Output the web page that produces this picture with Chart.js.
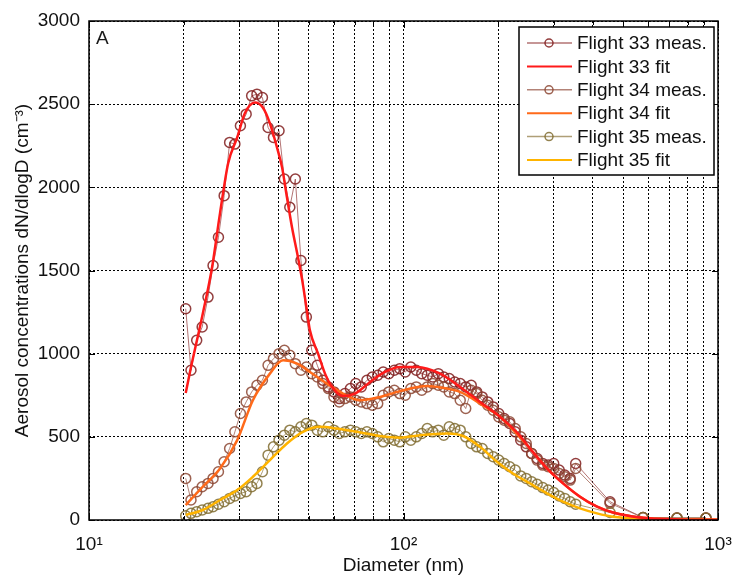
<!DOCTYPE html>
<html><head><meta charset="utf-8">
<script src="https://cdn.jsdelivr.net/npm/chart.js@4/dist/chart.umd.min.js"></script>
<style>html,body{margin:0;padding:0;background:#fff;}#wrap{width:734px;height:575px;position:relative;}</style>
</head><body><div id="wrap"><canvas id="c" width="734" height="575"></canvas></div>
<script>
// ---------- DATA ----------
const seriesLabels = ["Flight 33 meas.", "Flight 33 fit", "Flight 34 meas.", "Flight 34 fit", "Flight 35 meas.", "Flight 35 fit"];

// measured diameters (nm)
const measDiameter = [20.3, 21.1, 22.0, 22.9, 23.9, 24.8, 25.8, 26.9, 28.0, 29.1, 30.3, 31.6, 32.9, 34.2, 35.6, 37.1, 38.6, 40.2, 41.8, 43.5,
  45.3, 47.2, 49.1, 51.1, 53.2, 55.4, 57.7, 60.1, 62.5, 65.1, 67.8, 70.5, 73.4, 76.5, 79.6, 82.8, 86.2, 89.8, 93.5, 97.3,
  101.3, 105.5, 109.8, 114.3, 119.0, 123.9, 129.0, 134.3, 139.8, 145.5, 151.5, 157.7, 164.2, 170.9, 177.9, 185.3, 192.9, 200.8, 209.0, 217.6,
  226.6, 235.9, 245.6, 255.6, 266.1, 277.1, 288.5, 300.3, 312.6, 325.5, 338.8, 352.8, 453.6, 577.5, 740.6, 915.6];

const flight33Meas = [1270, 900, 1080, 1160, 1340, 1530, 1700, 1950, 2270, 2260, 2370, 2440, 2550, 2560, 2540, 2360, 2300, 2340, 2050, 1880,
  2050, 1560, 1220, 1020, 930, 840, 800, 770, 730, 760, 790, 820, 800, 840, 860, 870, 890, 880, 900, 910,
  890, 920, 900, 880, 870, 860, 880, 860, 850, 830, 820, 800, 810, 770, 740, 710, 680, 640, 610, 580,
  530, 480, 440, 400, 370, 340, 330, 340, 300, 270, 250, 340, 110, 15, 12, 12];

const flight34Meas = [250, 120, 170, 200, 220, 250, 290, 350, 430, 530, 640, 710, 770, 810, 840, 930, 970, 1000, 1020, 990,
  940, 900, 920, 880, 860, 820, 790, 740, 710, 730, 740, 720, 710, 700, 690, 700, 750, 770, 780, 760,
  750, 790, 800, 780, 800, 820, 810, 800, 770, 760, 720, 670, 780, 760, 720, 690, 660, 620, 600, 590,
  550, 500, 460, 400, 360, 330, 320, 310, 280, 260, 240, 310, 100, 15, 12, 12];

const flight35Meas = [25, 40, 50, 60, 70, 80, 95, 110, 130, 145, 160, 170, 200, 220, 290, 390, 440, 480, 510, 540,
  530, 560, 580, 570, 540, 530, 560, 540, 520, 530, 540, 530, 520, 530, 520, 500, 470, 490, 480, 470,
  500, 480, 500, 520, 550, 530, 540, 510, 560, 550, 540, 500, 460, 440, 430, 400, 380, 360, 340, 320,
  300, 265, 250, 230, 215, 195, 180, 165, 145, 130, 110, 95, 45, 15, 12, 12];

// fitted curves
const fit33Diameter = [20.3, 21.0, 23.0, 24.6, 26.1, 27.7, 29.6, 31.3, 33.7, 35.7, 37.6, 39.6, 41.1, 42.6, 44.2, 45.9, 47.6, 49.3, 50.4, 53.5,
  56.3, 59.3, 64.2, 70.1, 78.3, 87.3, 97.5, 110.4, 130.7, 151.3, 175.1, 202.7, 231.3, 252.5, 285.9, 321.6, 364.1, 412.4, 463.6, 565.0, 757.1, 1000];
const fit33Values = [763, 900, 1240, 1515, 1845, 2145, 2300, 2445, 2510, 2480, 2385, 2240, 2120, 1940, 1760, 1605, 1445, 1260, 1140, 1000,
  880, 800, 745, 760, 830, 890, 920, 920, 880, 800, 710, 620, 520, 430, 310, 220, 140, 80, 45, 15, 3, 1];

const fit34Diameter = [20.3, 23.0, 26.1, 29.6, 33.2, 37.6, 41.4, 45.9, 50.4, 57.1, 64.2, 72.7, 84.2, 97.5, 118.8, 137.5, 151.3, 175.1, 202.7, 231.3,
  252.5, 285.9, 321.6, 364.1, 412.4, 463.6, 565.0, 757.1, 1000];
const fit34Values = [90, 200, 310, 480, 720, 880, 960, 940, 890, 820, 760, 720, 740, 775, 805, 790, 770, 700, 620, 510,
  430, 310, 220, 140, 80, 45, 15, 3, 1];

const fit35Diameter = [20.3, 23.0, 26.1, 29.6, 33.2, 37.6, 42.6, 47.9, 54.3, 61.4, 71.1, 84.2, 97.5, 112.9, 137.5, 154.6, 175.1, 198.3, 222.9, 252.5,
  285.9, 321.6, 364.1, 412.4, 463.6, 594.6, 757.1, 1000];
const fit35Values = [30, 60, 120, 180, 260, 360, 460, 530, 560, 550, 530, 505, 495, 510, 520, 505, 440, 350, 280, 220,
  160, 110, 70, 40, 20, 6, 2, 1];

// axes
const xTickValues = [10, 20, 30, 40, 50, 60, 70, 80, 90, 100, 200, 300, 400, 500, 600, 700, 800, 900, 1000];
const xMajorLabels = {10: "10\u00B9", 100: "10\u00B2", 1000: "10\u00B3"};
const yTickValues = [0, 500, 1000, 1500, 2000, 2500, 3000];
const xTitle = "Diameter (nm)";
const yTitle = "Aerosol concentrations dN/dlogD (cm\u207B\u00B3)";
const panelLetter = "A";

// ---------- CHART ----------
const FONT = "'Liberation Sans', Arial, Helvetica, sans-serif";
const pts = (xs, ys) => xs.map((d, i) => ({x: d, y: ys[i]}));

function measSet(label, vals, pointColor, lineColor, order) {
  return {label, data: pts(measDiameter, vals), showLine: true, borderColor: lineColor, borderWidth: 1,
    pointRadius: 5, pointBorderWidth: 1.5, pointBorderColor: pointColor, pointBackgroundColor: 'rgba(0,0,0,0)',
    pointStyle: 'circle', tension: 0, order, _kind: 'meas'};
}
function fitSet(label, xs, ys, color, order) {
  return {label, data: pts(xs, ys), showLine: true, borderColor: color, borderWidth: 2.5,
    pointRadius: 0, cubicInterpolationMode: 'monotone', order, _kind: 'fit'};
}

const datasets = [
  measSet(seriesLabels[0], flight33Meas, 'rgba(128,28,28,0.85)', 'rgba(160,80,80,0.8)', 6),
  fitSet(seriesLabels[1], fit33Diameter, fit33Values, '#ff1a1a', 1),
  measSet(seriesLabels[2], flight34Meas, 'rgba(140,70,50,0.85)', 'rgba(160,100,85,0.8)', 5),
  fitSet(seriesLabels[3], fit34Diameter, fit34Values, '#ff6a1a', 2),
  measSet(seriesLabels[4], flight35Meas, 'rgba(128,108,48,0.85)', 'rgba(155,135,85,0.8)', 4),
  fitSet(seriesLabels[5], fit35Diameter, fit35Values, '#ffb400', 3)
];

const framePlugin = {
  id: 'frame',
  afterDatasetsDraw(chart) {
    const {ctx, chartArea: a, scales: {x, y}} = chart;
    ctx.save();
    ctx.strokeStyle = '#000';
    ctx.lineWidth = 1;
    ctx.beginPath();
    x.ticks.forEach(t => {
      const px = Math.round(x.getPixelForValue(t.value)) + 0.5;
      const len = xMajorLabels[t.value] ? 7 : 4;
      ctx.moveTo(px, a.bottom); ctx.lineTo(px, a.bottom - len);
      ctx.moveTo(px, a.top); ctx.lineTo(px, a.top + len);
    });
    y.ticks.forEach(t => {
      const py = Math.round(y.getPixelForValue(t.value)) + 0.5;
      ctx.moveTo(a.left, py); ctx.lineTo(a.left + 6, py);
      ctx.moveTo(a.right, py); ctx.lineTo(a.right - 6, py);
    });
    ctx.stroke();
    ctx.lineWidth = 1.5;
    ctx.strokeRect(a.left, a.top, a.right - a.left, a.bottom - a.top);
    ctx.fillStyle = '#1a1a1a';
    ctx.font = '19px ' + FONT;
    ctx.textBaseline = 'top';
    ctx.textAlign = 'left';
    ctx.fillText(panelLetter, a.left + 7, a.top + 8);
    ctx.restore();
  }
};

const legendPlugin = {
  id: 'boxLegend',
  afterDraw(chart) {
    const {ctx} = chart;
    const bx = 519, by = 27, bw = 195, bh = 148;
    ctx.save();
    ctx.fillStyle = '#fff';
    ctx.fillRect(bx, by, bw, bh);
    ctx.strokeStyle = '#000';
    ctx.lineWidth = 1.5;
    ctx.strokeRect(bx, by, bw, bh);
    ctx.font = '19px ' + FONT;
    ctx.textBaseline = 'middle';
    ctx.textAlign = 'left';
    chart.data.datasets.forEach((ds, i) => {
      const cy = by + 16 + i * 23.4;
      ctx.beginPath();
      ctx.strokeStyle = ds.borderColor;
      ctx.lineWidth = ds._kind === 'fit' ? 2 : 1.5;
      ctx.moveTo(bx + 8, cy); ctx.lineTo(bx + 53, cy);
      ctx.stroke();
      if (ds._kind === 'meas') {
        ctx.beginPath();
        ctx.strokeStyle = ds.pointBorderColor;
        ctx.lineWidth = 1.5;
        ctx.arc(bx + 30, cy, 4, 0, Math.PI * 2);
        ctx.stroke();
      }
      ctx.fillStyle = '#111';
      ctx.fillText(ds.label, bx + 58, cy + 1);
    });
    ctx.restore();
  }
};

new Chart(document.getElementById('c'), {
  type: 'scatter',
  data: {datasets},
  options: {
    responsive: false,
    animation: false,
    devicePixelRatio: 1,
    layout: {padding: {left: 0, top: 21, right: 16, bottom: 0}},
    plugins: {legend: {display: false}, tooltip: {enabled: false}},
    scales: {
      x: {
        type: 'logarithmic', min: 10, max: 1000,
        afterBuildTicks: s => { s.ticks = xTickValues.map(v => ({value: v})); },
        afterFit: s => { s.height = 55; s.paddingLeft = 0; s.paddingRight = 0; },
        ticks: {autoSkip: false, maxRotation: 0, padding: 13, color: '#111',
          font: {family: FONT, size: 19},
          callback: v => xMajorLabels[v] || ''},
        grid: {color: '#000', lineWidth: 1, drawTicks: false},
        border: {display: false, dash: [2, 2]},
        title: {display: true, text: xTitle, color: '#111', font: {family: FONT, size: 19, lineHeight: 1.0}, padding: {top: 0, bottom: 0}}
      },
      y: {
        type: 'linear', min: 0, max: 3000,
        afterBuildTicks: s => { s.ticks = yTickValues.map(v => ({value: v})); },
        afterFit: s => { s.width = 89; s.paddingTop = 0; s.paddingBottom = 0; },
        ticks: {padding: 9, color: '#111', font: {family: FONT, size: 19}, callback: v => String(v)},
        grid: {color: '#000', lineWidth: 1, drawTicks: false},
        border: {display: false, dash: [2, 2]},
        title: {display: true, text: yTitle, color: '#111', font: {family: FONT, size: 19}, padding: {top: 11, bottom: 0}}
      }
    }
  },
  plugins: [framePlugin, legendPlugin]
});
</script></body></html>
